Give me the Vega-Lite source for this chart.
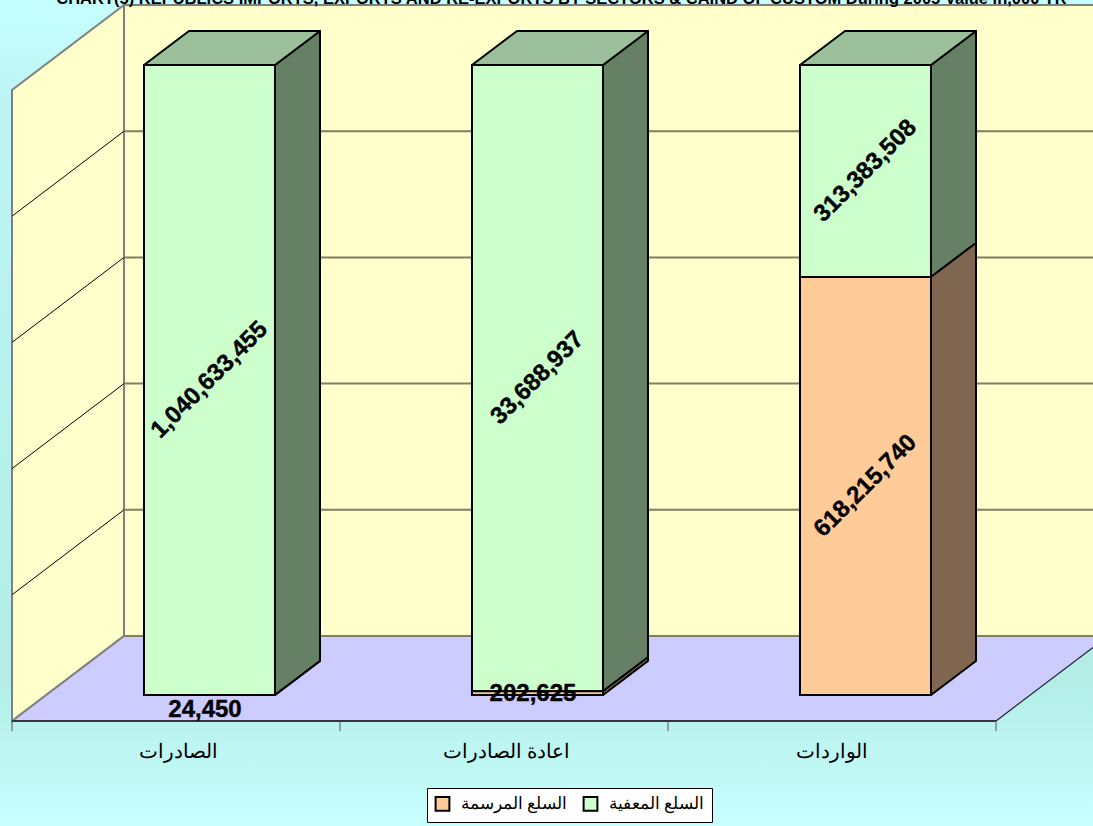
{
"$schema":"https://vega.github.io/schema/vega-lite/v6.json",
"width":1093,"height":826,"padding":0,
"autosize":{"type":"none","contains":"padding"},
"view":{"stroke":null,"fill":{"gradient":"linear","x1":0,"y1":0,"x2":0,"y2":1,"stops":[{"offset":0,"color":"#c6ffff"},{"offset":0.12,"color":"#bcf5f3"},{"offset":0.82,"color":"#b3ede6"},{"offset":1,"color":"#c8ffff"}]}},
"config":{"style":{"cell":{"stroke":null}}},
"datasets":{
"bars":[
{"sector":"الصادرات","series":"السلع المعفية","value":1040633455},
{"sector":"الصادرات","series":"السلع المرسمة","value":24450},
{"sector":"اعادة الصادرات","series":"السلع المعفية","value":33688937},
{"sector":"اعادة الصادرات","series":"السلع المرسمة","value":202625},
{"sector":"الواردات","series":"السلع المعفية","value":313383508},
{"sector":"الواردات","series":"السلع المرسمة","value":618215740}
],
"grid":[{"g":0},{"g":20},{"g":40},{"g":60},{"g":80},{"g":100}],
"cats":[{"sector":"الصادرات","c":0.509},{"sector":"اعادة الصادرات","c":1.509},{"sector":"الواردات","c":2.5}]
},
"layer":[
{"data":{"values":[{"x":0.3415,"x2":3.3415,"y":13.47,"y2":113.47}]},
 "mark":{"type":"rect","fill":"#ffffcc","stroke":"#808080","strokeWidth":2,"clip":true},
 "encoding":{"x":{"field":"x","type":"quantitative","scale":{"domain":[-0.03659,3.29573],"nice":false,"zero":false},"axis":null},"x2":{"field":"x2"},"y":{"field":"y","type":"quantitative","scale":{"domain":[-16.64,114.263],"nice":false,"zero":false},"axis":null},"y2":{"field":"y2"}}},
{"data":{"values":[{"x":0,"y":0,"y2":100},{"x":0.3415,"y":13.47,"y2":113.47}]},
 "mark":{"type":"area","fill":"#ffffcc","stroke":"#808080","strokeWidth":2},
 "encoding":{"x":{"field":"x","type":"quantitative","scale":{"domain":[-0.03659,3.29573],"nice":false,"zero":false},"axis":null},"y":{"field":"y","type":"quantitative","scale":{"domain":[-16.64,114.263],"nice":false,"zero":false},"axis":null},"y2":{"field":"y2"}}},
{"data":{"values":[{"x":0,"x2":3,"y":0},{"x":0.3415,"x2":3.3415,"y":13.47}]},
 "mark":{"type":"area","orient":"horizontal","fill":"#ccccff","clip":true},
 "encoding":{"x":{"field":"x","type":"quantitative","scale":{"domain":[-0.03659,3.29573],"nice":false,"zero":false},"axis":null},"x2":{"field":"x2"},"y":{"field":"y","type":"quantitative","scale":{"domain":[-16.64,114.263],"nice":false,"zero":false},"axis":null}}},
{"data":{"name":"grid"},
 "transform":[{"filter":"datum.g>0 && datum.g<100"},{"calculate":"datum.g+13.47","as":"gb"}],
 "mark":{"type":"rule","color":"#000000","strokeWidth":1},
 "encoding":{"x":{"datum":0,"type":"quantitative","scale":{"domain":[-0.03659,3.29573],"nice":false,"zero":false},"axis":null},"x2":{"datum":0.3415},"y":{"field":"g","type":"quantitative","scale":{"domain":[-16.64,114.263],"nice":false,"zero":false},"axis":null},"y2":{"field":"gb"}}},
{"data":{"name":"grid"},
 "transform":[{"filter":"datum.g<100"},{"calculate":"datum.g+13.47","as":"gb"}],
 "mark":{"type":"rule","color":"#808060","strokeWidth":2,"clip":true},
 "encoding":{"x":{"datum":0.3415,"type":"quantitative","scale":{"domain":[-0.03659,3.29573],"nice":false,"zero":false},"axis":null},"x2":{"datum":3.3415},"y":{"field":"gb","type":"quantitative","scale":{"domain":[-16.64,114.263],"nice":false,"zero":false},"axis":null}}},
{"data":{"values":[{"a":0,"b":0,"c":0.3415,"d":13.47}]},
 "mark":{"type":"rule","color":"#808080","strokeWidth":2},
 "encoding":{"x":{"field":"a","type":"quantitative","scale":{"domain":[-0.03659,3.29573],"nice":false,"zero":false},"axis":null},"x2":{"field":"c"},"y":{"field":"b","type":"quantitative","scale":{"domain":[-16.64,114.263],"nice":false,"zero":false},"axis":null},"y2":{"field":"d"}}},
{"data":{"values":[{"a":3,"b":0,"c":3.3415,"d":13.47}]},
 "mark":{"type":"rule","color":"#222233","strokeWidth":1.2,"clip":true},
 "encoding":{"x":{"field":"a","type":"quantitative","scale":{"domain":[-0.03659,3.29573],"nice":false,"zero":false},"axis":null},"x2":{"field":"c"},"y":{"field":"b","type":"quantitative","scale":{"domain":[-16.64,114.263],"nice":false,"zero":false},"axis":null},"y2":{"field":"d"}}},
{"data":{"values":[{"a":0,"c":3,"b":0}]},
 "mark":{"type":"rule","color":"#333344","strokeWidth":2},
 "encoding":{"x":{"field":"a","type":"quantitative","scale":{"domain":[-0.03659,3.29573],"nice":false,"zero":false},"axis":null},"x2":{"field":"c"},"y":{"field":"b","type":"quantitative","scale":{"domain":[-16.64,114.263],"nice":false,"zero":false},"axis":null}}},
{"data":{"values":[{"t":0},{"t":1},{"t":2},{"t":3}]},
 "transform":[{"calculate":"-1.6","as":"tick"},{"calculate":"0","as":"base"}],
 "mark":{"type":"rule","color":"#555555","strokeWidth":1},
 "encoding":{"x":{"field":"t","type":"quantitative","scale":{"domain":[-0.03659,3.29573],"nice":false,"zero":false},"axis":null},"y":{"field":"tick","type":"quantitative","scale":{"domain":[-16.64,114.263],"nice":false,"zero":false},"axis":null},"y2":{"field":"base"}}},
{"data":{"name":"bars"},
 "transform":[
 {"stack":"value","groupby":["sector"],"offset":"normalize","sort":[{"field":"series","order":"ascending"}],"as":["s0","s1"]},
 {"calculate":"indexof(['الصادرات','اعادة الصادرات','الواردات'],datum.sector)+0.4024","as":"x0"},
 {"calculate":"datum.x0+0.3994","as":"x1"},
 {"calculate":"0","as":"near"},{"calculate":"1","as":"far"},
 {"fold":["near","far"],"as":["face","d"]},
 {"calculate":"datum.x1+datum.d*0.1372","as":"px"},
 {"calculate":"4.12+datum.s0*99.84+datum.d*5.39","as":"py0"},
 {"calculate":"4.12+datum.s1*99.84+datum.d*5.39","as":"py1"},
 {"calculate":"datum.sector+datum.series","as":"key"}],
 "mark":{"type":"area","stroke":"#000000","strokeWidth":2,"strokeJoin":"round"},
 "encoding":{"x":{"field":"px","type":"quantitative","scale":{"domain":[-0.03659,3.29573],"nice":false,"zero":false},"axis":null},
 "y":{"field":"py0","type":"quantitative","scale":{"domain":[-16.64,114.263],"nice":false,"zero":false},"axis":null},"y2":{"field":"py1"},"detail":{"field":"key"},
 "fill":{"field":"series","type":"nominal","scale":{"domain":["السلع المرسمة","السلع المعفية"],"range":["#806650","#668066"]},"legend":null}}},
{"data":{"name":"bars"},
 "transform":[
 {"stack":"value","groupby":["sector"],"offset":"normalize","sort":[{"field":"series","order":"ascending"}],"as":["s0","s1"]},
 {"filter":"datum.s1>0.999"},
 {"calculate":"indexof(['الصادرات','اعادة الصادرات','الواردات'],datum.sector)+0.4024","as":"x0"},
 {"calculate":"datum.x0+0.3994","as":"x1"},
 {"calculate":"0","as":"near"},{"calculate":"1","as":"far"},
 {"fold":["near","far"],"as":["face","d"]},
 {"calculate":"datum.x0+datum.d*0.1372","as":"px0"},
 {"calculate":"datum.x1+datum.d*0.1372","as":"px1"},
 {"calculate":"103.96+datum.d*5.39","as":"py"}],
 "mark":{"type":"area","orient":"horizontal","fill":"#9abf9a","stroke":"#000000","strokeWidth":2,"strokeJoin":"round"},
 "encoding":{"x":{"field":"px0","type":"quantitative","scale":{"domain":[-0.03659,3.29573],"nice":false,"zero":false},"axis":null},"x2":{"field":"px1"},
 "y":{"field":"py","type":"quantitative","scale":{"domain":[-16.64,114.263],"nice":false,"zero":false},"axis":null},"detail":{"field":"sector"}}},
{"data":{"name":"bars"},
 "transform":[
 {"stack":"value","groupby":["sector"],"offset":"normalize","sort":[{"field":"series","order":"ascending"}],"as":["s0","s1"]},
 {"calculate":"indexof(['الصادرات','اعادة الصادرات','الواردات'],datum.sector)+0.4024","as":"x0"},
 {"calculate":"datum.x0+0.3994","as":"x1"},
 {"calculate":"4.12+datum.s0*99.84","as":"py0"},
 {"calculate":"4.12+datum.s1*99.84","as":"py1"}],
 "mark":{"type":"rect","stroke":"#000000","strokeWidth":2},
 "encoding":{"x":{"field":"x0","type":"quantitative","scale":{"domain":[-0.03659,3.29573],"nice":false,"zero":false},"axis":null},"x2":{"field":"x1"},
 "y":{"field":"py0","type":"quantitative","scale":{"domain":[-16.64,114.263],"nice":false,"zero":false},"axis":null},"y2":{"field":"py1"},
 "fill":{"field":"series","type":"nominal","title":null,"scale":{"domain":["السلع المرسمة","السلع المعفية"],"range":["#ffcc99","#ccffcc"]},
 "legend":{"orient":"none","legendX":427,"legendY":788,"direction":"horizontal","symbolType":"square","symbolSize":190,"symbolStrokeColor":"#000000","symbolStrokeWidth":2,"symbolOpacity":1,"fillColor":"#ffffff","strokeColor":"#000000","padding":7,"labelFont":"Liberation Serif","labelFontSize":17,"labelColor":"#000000","columnPadding":11,"labelOffset":10,"title":null,"labelLimit":200}}}},
{"data":{"name":"bars"},
 "transform":[
 {"stack":"value","groupby":["sector"],"offset":"normalize","sort":[{"field":"series","order":"ascending"}],"as":["s0","s1"]},
 {"filter":"datum.value>1000000"},
 {"calculate":"indexof(['الصادرات','اعادة الصادرات','الواردات'],datum.sector)+0.6021","as":"xc"},
 {"calculate":"4.12+(datum.s0+datum.s1)/2*99.84","as":"yc"}],
 "mark":{"type":"text","font":"Liberation Sans","fontWeight":"bold","fontSize":24,"angle":315,"align":"center","baseline":"middle","color":"#000000","stroke":"#000000","strokeWidth":0.4},
 "encoding":{"x":{"field":"xc","type":"quantitative","scale":{"domain":[-0.03659,3.29573],"nice":false,"zero":false},"axis":null},"y":{"field":"yc","type":"quantitative","scale":{"domain":[-16.64,114.263],"nice":false,"zero":false},"axis":null},"text":{"field":"value","type":"quantitative","format":","}}},
{"data":{"name":"bars"},
 "transform":[
 {"filter":"datum.value<1000000"},
 {"calculate":"indexof(['الصادرات','اعادة الصادرات','الواردات'],datum.sector)+0.5884","as":"xc"},
 {"calculate":"datum.value<100000?1.75:4.3","as":"yc"}],
 "mark":{"type":"text","font":"Liberation Sans","fontWeight":"bold","fontSize":24,"align":"center","baseline":"middle","color":"#000000","stroke":"#000000","strokeWidth":0.4},
 "encoding":{"x":{"field":"xc","type":"quantitative","scale":{"domain":[-0.03659,3.29573],"nice":false,"zero":false},"axis":null},"y":{"field":"yc","type":"quantitative","scale":{"domain":[-16.64,114.263],"nice":false,"zero":false},"axis":null},"text":{"field":"value","type":"quantitative","format":","}}},
{"data":{"name":"cats"},
 "transform":[{"calculate":"-4.9","as":"yc"}],
 "mark":{"type":"text","font":"Liberation Serif","fontSize":20,"align":"center","baseline":"middle","color":"#000000"},
 "encoding":{"x":{"field":"c","type":"quantitative","scale":{"domain":[-0.03659,3.29573],"nice":false,"zero":false},"axis":null},"y":{"field":"yc","type":"quantitative","scale":{"domain":[-16.64,114.263],"nice":false,"zero":false},"axis":null},"text":{"field":"sector"}}},
{"data":{"values":[{"t":"CHART(5) REPUBLICS IMPORTS, EXPORTS AND RE-EXPORTS BY SECTORS & CAIND OF CUSTOM During 2005 Value in,000 YR","xc":1.675,"yc":113.63}]},
 "mark":{"type":"text","font":"Liberation Sans","fontWeight":"bold","fontSize":16.5,"align":"center","baseline":"alphabetic","color":"#000000"},
 "encoding":{"x":{"field":"xc","type":"quantitative","scale":{"domain":[-0.03659,3.29573],"nice":false,"zero":false},"axis":null},"y":{"field":"yc","type":"quantitative","scale":{"domain":[-16.64,114.263],"nice":false,"zero":false},"axis":null},"text":{"field":"t"}}}
],
"resolve":{"scale":{"fill":"independent"}}
}
